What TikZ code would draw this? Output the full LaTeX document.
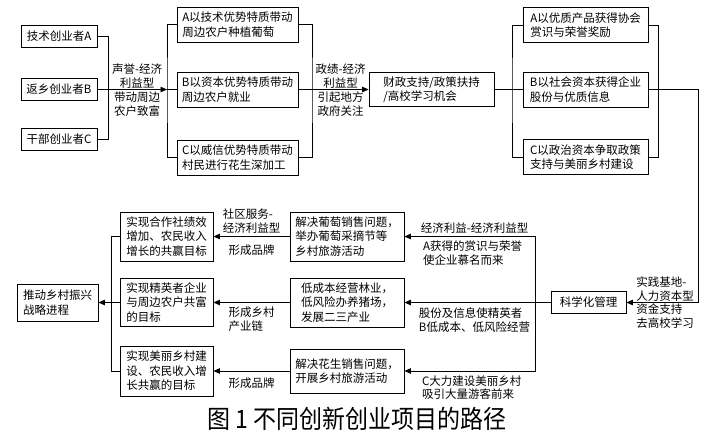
\documentclass[tikz,border=0pt]{standalone}
\usepackage{fontspec}
\setmainfont{Noto Sans CJK SC}
\usetikzlibrary{arrows.meta,positioning}
\tikzset{
  block/.style={draw=black, line width=0.9pt, align=left, inner sep=3pt,
    font=\fontsize{11.5}{14.5}\selectfont},
  founder/.style={block, minimum width=76pt, minimum height=22pt},
  wayblock/.style={block, minimum width=121pt, minimum height=35pt},
  capblock/.style={block, minimum width=125pt, minimum height=35pt},
  actblock/.style={block, minimum width=114pt, minimum height=49pt},
  goalblock/.style={block, minimum width=93pt, minimum height=49pt},
  link/.style={line width=0.9pt},
  arr/.style={-{Triangle[length=6.5pt,width=5.5pt]}, line width=0.9pt},
  lbl/.style={align=left, inner sep=1pt, font=\fontsize{11.5}{13.5}\selectfont}
}
\begin{document}
\begin{tikzpicture}[x=1pt, y=-1pt]
  \useasboundingbox (0,0) rectangle (706,436);

  % founders
  \node[founder] (tech) at (59,36) {技术创业者A};
  \node[founder] (ret) at (59,89.5) {返乡创业者B};
  \node[founder] (cadre) at (59,139.5) {干部创业者C};

  % ways of leading farmers
  \node[wayblock] (wayA) at (237.5,24.5) {A以技术优势特质带动\\周边农户种植葡萄};
  \node[wayblock] (wayB) at (237.5,89.5) {B以资本优势特质带动\\周边农户就业};
  \node[wayblock] (wayC) at (237.5,157.5) {C以威信优势特质带动\\村民进行花生深加工};

  \node[capblock, minimum height=34pt] (fin) at (431.5,89.5) {财政支持/政策扶持\\/高校学习机会};

  % capital gained
  \node[capblock] (capA) at (585.5,25) {A以优质产品获得协会\\赏识与荣誉奖励};
  \node[capblock] (capB) at (585.5,89.5) {B以社会资本获得企业\\股份与优质信息};
  \node[capblock] (capC) at (585.5,157) {C以政治资本争取政策\\支持与美丽乡村建设};

  \node[block, minimum width=75pt, minimum height=22pt] (mgmt) at (588.5,302.5) {科学化管理};

  % activities
  \node[actblock] (actA) at (347,236.5) {解决葡萄销售问题，\\举办葡萄采摘节等\\乡村旅游活动};
  \node[actblock] (actB) at (347,302.5) {低成本经营林业，\\低风险办养猪场，\\发展二三产业};
  \node[actblock, minimum height=44pt] (actC) at (347,371) {解决花生销售问题，\\开展乡村旅游活动};

  % goals
  \node[goalblock] (goalA) at (166.5,236.5) {实现合作社绩效\\增加、农民收入\\增长的共赢目标};
  \node[goalblock, minimum height=48pt] (goalB) at (166.5,302.5) {实现精英者企业\\与周边农户共富\\的目标};
  \node[goalblock, minimum height=50pt] (goalC) at (166.5,371) {实现美丽乡村建\\设、农民收入增\\长共赢的目标};

  \node[block, minimum width=81pt, minimum height=37pt] (rev) at (57.5,302.5) {推动乡村振兴\\战略进程};

  \coordinate (waybr) at (167,89.5);
  \coordinate (finbr) at (312,89.5);
  \coordinate (capbr) at (512,89.5);
  \coordinate (rtc) at (698,89.5);
  \coordinate (actbr) at (535,302.5);

  % top row
  \draw[link] (tech.east) -- ++(11,0) |- (cadre.east);
  \draw[arr] (ret.east) -- (waybr)
    node[lbl, align=center, midway, above=0pt, xshift=5pt] {声誉-经济\\利益型}
    node[lbl, align=center, midway, below=1pt, xshift=5pt] {带动周边\\农户致富};
  \draw[link] (wayA.west) -| (waybr) |- (wayC.west);
  \draw[link] (waybr) -- (wayB.west);

  \draw[link] (wayA.east) -| (finbr) |- (wayC.east);
  \draw[arr] (wayB.east) -- (fin.west)
    node[lbl, align=center, pos=0.6, above=0pt] {政绩-经济\\利益型}
    node[lbl, align=center, pos=0.6, below=1pt] {引起地方\\政府关注};

  \draw[link] (fin.east) -- (capbr);
  \draw[link] (capA.west) -| (capbr) |- (capC.west);
  \draw[link] (capbr) -- (capB.west);

  \draw[link] (capA.east) -- ++(10,0) |- (capC.east);
  \draw[arr] (capB.east) -- (rtc) |- (mgmt.east)
    node[lbl, pos=0.75, above=0pt, xshift=3pt] {实践基地-\\人力资本型}
    node[lbl, pos=0.75, below=0pt, xshift=3pt] {资金支持\\去高校学习};

  % lower rows
  \draw[arr] (mgmt.west) -- (actB.east)
    node[lbl, midway, below=4pt, xshift=-3pt] {股份及信息使精英者\\B低成本、低风险经营};
  \draw[arr] (actbr) |- (actA.east)
    node[lbl, pos=0.75, above=2pt, xshift=5pt] {经济利益-经济利益型}
    node[lbl, pos=0.75, below=3pt, xshift=3pt] {A获得的赏识与荣誉\\使企业慕名而来};
  \draw[arr] (actbr) |- (actC.east)
    node[lbl, pos=0.75, below=3pt, xshift=2pt] {C大力建设美丽乡村\\吸引大量游客前来};

  \draw[arr] (actA.west) -- (goalA.east)
    node[lbl, midway, above=2pt] {社区服务-\\经济利益型}
    node[lbl, midway, below=7pt] {形成品牌};
  \draw[arr] (actB.west) -- (goalB.east)
    node[lbl, midway, below=3pt] {形成乡村\\产业链};
  \draw[arr] (actC.west) -- (goalC.east)
    node[lbl, midway, below=5pt] {形成品牌};

  \draw[link] (goalA.west) -- ++(-8,0) |- (goalC.west);
  \draw[arr] (goalB.west) -- (rev.east);

  \node[font=\fontsize{23}{23}\selectfont, inner sep=0pt] (cap) at (357,419) {\scalebox{1}[1.1]{图 1 不同创新创业项目的路径}};
\end{tikzpicture}
\end{document}
